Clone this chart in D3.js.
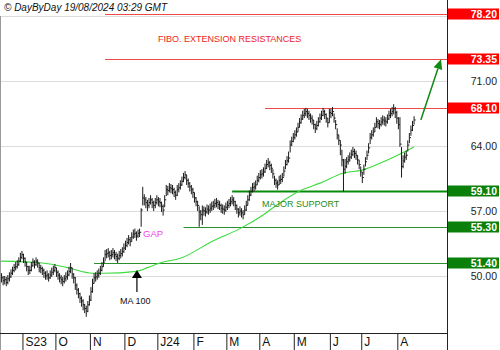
<!DOCTYPE html>
<html><head><meta charset="utf-8">
<script src="https://cdn.jsdelivr.net/npm/d3@7"></script>
<style>
html,body{margin:0;padding:0;background:#fff;}
svg{display:block;font-family:"Liberation Sans",Arial,sans-serif;}
</style></head>
<body>
<svg id="c" width="500" height="350"></svg>
<script>
// ---------- DATA ----------
const closes = [
50.1,49.8,49.5,49.6,49.3,49.7,49.9,50.3,50.6,50.9,
51.0,51.2,51.6,52.0,52.3,51.9,51.5,51.0,50.6,50.6,
51.1,51.5,51.2,51.6,51.4,50.9,50.8,50.6,50.3,50.0,
50.1,49.8,50.1,50.4,50.6,50.9,50.4,50.1,49.8,49.6,
49.4,49.7,49.9,50.1,50.5,50.9,50.2,49.8,49.0,48.5,
48.1,47.6,47.3,46.9,46.5,46.2,46.9,47.4,48.3,49.2,
49.8,49.9,50.1,50.3,50.6,51.0,51.5,52.3,52.4,52.5,
52.2,52.3,52.5,52.3,52.1,51.9,52.2,52.4,52.6,53.0,
53.3,53.6,53.9,53.7,54.2,54.5,54.6,54.3,54.6,54.7,
57.1,58.4,58.2,57.9,57.6,57.9,58.2,57.9,57.6,57.9,
58.2,58.0,57.9,57.5,57.1,58.2,59.3,59.2,59.5,59.4,
59.3,59.0,58.7,59.3,59.5,59.8,60.2,60.6,60.9,60.3,
60.0,59.6,59.3,59.0,58.4,58.0,57.6,56.9,56.6,57.1,
57.0,56.9,57.2,57.1,57.3,57.5,57.6,57.8,57.9,57.7,
57.6,57.3,57.2,57.1,57.4,57.6,57.8,58.0,58.2,58.0,
57.6,57.2,56.8,57.0,56.8,56.6,57.1,57.6,58.2,58.7,
59.1,59.5,59.6,59.8,60.3,60.6,60.9,61.0,61.2,61.6,
62.0,62.2,61.9,61.6,61.0,60.3,60.0,59.8,60.3,60.4,
60.6,61.3,62.0,62.4,62.7,64.1,64.5,64.9,65.2,65.5,
66.0,66.5,66.9,67.3,67.5,67.7,67.5,67.3,67.0,66.8,
66.3,65.9,66.2,66.6,67.0,67.3,67.7,67.4,67.0,66.5,
67.6,67.5,67.7,67.0,66.3,65.2,64.6,64.1,62.5,61.5,
61.8,62.3,62.5,62.8,63.1,63.4,63.2,63.0,62.5,62.0,
61.2,60.6,61.5,62.3,63.0,63.8,64.9,65.2,65.5,66.0,
66.6,66.4,66.3,66.6,66.8,66.7,66.6,66.9,67.3,67.5,
67.7,68.0,67.6,67.0,66.3,64.2,61.8,62.4,62.8,63.0,
64.1,64.9,65.7,66.2,66.8
];
const highs = [
50.6,50.3,50.0,50.0,49.9,50.1,50.4,50.7,51.0,51.3,
51.5,51.7,52.0,52.5,52.7,52.4,52.0,51.5,51.1,51.1,
51.5,51.9,51.7,52.0,51.8,51.4,51.2,51.0,50.8,50.5,
50.6,50.3,50.6,50.9,51.1,51.3,50.9,50.6,50.3,50.1,
49.9,50.1,50.4,50.6,51.0,51.4,50.9,50.3,49.9,49.2,
48.7,48.2,47.8,47.5,47.0,46.8,47.3,47.9,48.8,49.7,
50.3,50.4,50.6,50.8,51.1,51.5,52.0,52.8,52.9,53.0,
52.7,52.8,53.0,52.8,52.6,52.4,52.7,52.9,53.1,53.5,
53.8,54.1,54.4,54.2,54.7,55.0,55.1,54.8,55.0,55.1,
57.3,59.6,58.8,58.5,58.2,58.4,58.7,58.4,58.1,58.4,
58.7,58.5,58.4,58.0,57.7,58.7,59.8,59.7,60.0,59.9,
59.8,59.5,59.2,59.8,60.0,60.3,60.7,61.1,61.3,60.9,
60.5,60.1,59.8,59.5,59.0,58.5,58.1,57.5,57.1,57.6,
57.5,57.4,57.7,57.6,57.8,58.0,58.1,58.3,58.4,58.2,
58.1,57.8,57.7,57.6,57.9,58.1,58.3,58.5,58.7,58.5,
58.1,57.7,57.3,57.5,57.3,57.1,57.6,58.1,58.7,59.2,
59.6,60.0,60.1,60.3,60.8,61.1,61.4,61.5,61.7,62.1,
62.5,62.7,62.4,62.1,61.5,60.8,60.5,60.3,60.8,60.9,
61.1,61.8,62.5,62.9,63.4,64.6,65.0,65.4,65.7,66.0,
66.5,67.0,67.4,67.8,68.0,68.1,68.0,67.8,67.5,67.3,
66.8,66.4,66.7,67.1,67.5,67.8,68.1,67.9,67.5,67.0,
68.0,68.0,68.2,67.5,66.8,65.9,65.2,64.6,63.6,62.6,
62.6,62.8,63.0,63.3,63.6,63.9,63.7,63.5,63.0,62.5,
61.8,61.2,62.0,62.8,63.5,64.3,65.4,65.7,66.0,66.5,
67.1,66.9,66.8,67.1,67.3,67.2,67.1,67.4,67.8,68.0,
68.2,68.5,68.2,67.8,67.1,67.1,63.9,63.0,63.3,63.5,
64.6,65.4,66.2,66.7,67.2
];
const lows = [
49.6,49.3,49.0,49.1,48.9,49.1,49.4,49.8,50.1,50.4,
50.6,50.8,51.1,51.5,51.8,51.4,51.0,50.5,50.1,50.2,
50.5,51.0,50.8,51.1,50.9,50.4,50.3,50.1,49.8,49.6,
49.6,49.4,49.7,49.9,50.1,50.4,49.9,49.6,49.3,49.1,
48.9,49.2,49.4,49.6,50.0,50.3,49.7,49.2,48.5,48.0,
47.6,47.1,46.7,46.3,46.0,45.6,46.1,46.8,47.3,48.2,
49.2,49.4,49.6,49.8,50.1,50.5,51.0,51.6,51.9,52.0,
51.7,51.8,52.0,51.8,51.6,51.4,51.7,51.9,52.1,52.5,
52.8,53.1,53.4,53.2,53.7,54.0,54.1,53.8,54.1,54.2,
55.3,57.6,57.6,57.3,57.0,57.3,57.7,57.3,57.0,57.3,
57.7,57.5,57.4,56.9,56.5,57.4,58.6,58.7,59.0,58.9,
58.8,58.5,58.2,58.6,59.0,59.3,59.7,60.1,60.4,59.8,
59.5,59.1,58.8,58.4,57.9,57.5,57.0,55.3,56.0,55.5,
56.5,56.4,56.7,56.6,56.8,57.0,57.1,57.3,57.4,57.2,
57.1,56.8,56.7,56.6,56.9,57.1,57.3,57.5,57.7,57.5,
57.1,56.7,56.3,56.5,56.3,56.1,56.6,57.0,57.6,58.1,
58.6,59.0,59.1,59.3,59.8,60.1,60.4,60.5,60.7,61.1,
61.5,61.7,61.4,61.1,60.5,59.8,59.5,59.3,59.8,59.9,
60.1,60.7,61.5,61.9,62.2,63.3,64.0,64.4,64.7,65.0,
65.5,66.0,66.4,66.8,67.0,67.2,67.0,66.8,66.5,66.3,
65.8,65.4,65.7,66.1,66.5,66.8,67.2,66.9,66.5,66.0,
66.5,67.0,67.2,66.5,65.8,64.7,64.1,63.0,61.8,59.1,
61.0,61.6,62.0,62.3,62.6,62.9,62.7,62.5,62.0,61.5,
60.7,60.0,60.9,61.8,62.5,63.2,64.2,64.7,65.0,65.5,
66.0,65.9,65.8,66.1,66.3,66.2,66.1,66.4,66.8,67.0,
67.2,67.4,67.0,66.4,65.8,63.9,60.6,61.6,62.2,62.5,
63.4,64.3,65.1,65.6,66.3
];
// 100-day moving average, read at points along the curve (bar index, value)
const maIdx  = [0,27,43,59,66,87,94,102,115,136,153,168,177,193,204,219,231,247,264];
const maVals = [51.6,51.4,50.9,50.3,50.3,50.5,50.9,51.4,51.9,53.8,55.1,56.6,57.7,59.3,60.0,61.1,61.4,62.5,63.9];

const levels     = [78.20, 73.35, 68.10, 59.10, 55.30, 51.40];
const levelKinds = ["res","res","res","major","sup","sup"];
const levelFrom  = [67, 67, 169, 148, 117, 60];   // bar index where each line starts

const gridTicks  = [50, 57, 64, 71, 78];
const axisTicks  = [50, 57, 64, 71];
const monthLabels = ["S23","O","N","D","J24","F","M","A","M","J","J","A"];
const firstDate = new Date(2023, 7, 14);
const extraSlots = 20; // empty room on the right of the last bar

// ---------- LAYOUT ----------
const svg = d3.select("#c");
const W = 500, H = 350;
const plotR = 447, plotB = 333;

// trading dates (weekdays)
const dates = [];
{ let d = new Date(firstDate);
  while (dates.length < closes.length) {
    const wd = d.getDay();
    if (wd !== 0 && wd !== 6) dates.push(new Date(d));
    d.setDate(d.getDate() + 1);
  } }
const monthStarts = [];
for (let i = 1; i < dates.length; i++)
  if (dates[i].getMonth() !== dates[i-1].getMonth()) monthStarts.push(i);

const x = d3.scaleLinear().domain([0, closes.length + extraSlots]).range([0, plotR]);
const y = d3.scaleLinear().domain([43.86, 79.72]).range([plotB, 0]);

const colors = { res: "#f04848", major: "#0a8a0a", sup: "#2a8f2a" };
const boxColors = { res: "#ff0000", major: "#0a800a", sup: "#0a800a" };

// gridlines
svg.append("g").selectAll("line").data(gridTicks).join("line")
  .attr("x1", 0).attr("x2", plotR)
  .attr("y1", d => Math.round(y(d)) + 0.5).attr("y2", d => Math.round(y(d)) + 0.5)
  .attr("stroke", "#dcdcdc").attr("stroke-width", 1);

// level lines
svg.append("g").selectAll("line").data(levels).join("line")
  .attr("x1", (d, i) => x(levelFrom[i])).attr("x2", plotR)
  .attr("y1", d => Math.round(y(d)) + 0.5).attr("y2", d => Math.round(y(d)) + 0.5)
  .attr("stroke", (d, i) => colors[levelKinds[i]])
  .attr("stroke-width", (d, i) => levelKinds[i] === "major" ? 2 : 1);

// MA 100
const maPts = maIdx.map((d, i) => [d, maVals[i]]);
svg.append("path").datum(maPts)
  .attr("d", d3.line().x(d => x(d[0])).y(d => y(d[1])).curve(d3.curveMonotoneX))
  .attr("fill", "none").attr("stroke", "#3ddc3d").attr("stroke-width", 1.1);

// OHLC-style bars
const bars = svg.append("g").attr("stroke", "#1a1a1a").attr("stroke-width", 1);
bars.selectAll("line.hl").data(closes).join("line").attr("class", "hl")
  .attr("x1", (d, i) => x(i)).attr("x2", (d, i) => x(i))
  .attr("y1", (d, i) => y(highs[i])).attr("y2", (d, i) => y(lows[i]));
bars.selectAll("line.cl").data(closes).join("line").attr("class", "cl")
  .attr("x1", (d, i) => x(i)).attr("x2", (d, i) => x(i) + 1.6)
  .attr("y1", d => y(d)).attr("y2", d => y(d));

// frame
svg.append("line").attr("x1", 0.5).attr("x2", 0.5).attr("y1", y(78)).attr("y2", H)
  .attr("stroke", "#9a9a9a");
svg.append("line").attr("x1", plotR + 0.5).attr("x2", plotR + 0.5).attr("y1", 0).attr("y2", H)
  .attr("stroke", "#222");

// bottom axis (month separators)
const xAxis = d3.axisBottom(x).tickValues(monthStarts).tickSize(H - plotB).tickSizeOuter(0)
  .tickFormat((d, i) => monthLabels[i]);
const gx = svg.append("g").attr("transform", `translate(0,${plotB + 0.5})`).call(xAxis);
gx.select(".domain").attr("stroke", "#222").attr("d", `M0,0H${plotR}`);
gx.selectAll(".tick line").attr("stroke", "#222").attr("transform", "translate(0.5,0)");
gx.selectAll(".tick text").attr("text-anchor", "start").attr("x", 3).attr("y", 4).attr("dy", "0.71em")
  .attr("fill", "#111").style("font-size", "12px").style("font-family", "Liberation Sans, Arial, sans-serif");

// right axis
const yAxis = d3.axisRight(y).tickValues(axisTicks).tickSize(0).tickFormat(d3.format(".2f"));
const gy = svg.append("g").attr("transform", `translate(${plotR},0)`).call(yAxis);
gy.select(".domain").remove();
gy.selectAll(".tick text").attr("text-anchor", "end").attr("x", 50).attr("dy", "0.35em")
  .attr("fill", "#222").style("font-size", "10.5px").style("font-family", "Liberation Sans, Arial, sans-serif");

// level label boxes
const lb = svg.append("g").selectAll("g").data(levels).join("g")
  .attr("transform", d => `translate(${plotR + 1},${Math.round(y(d))})`);
lb.append("rect").attr("x", 0).attr("y", -5.5).attr("width", 51).attr("height", 11)
  .attr("fill", (d, i) => boxColors[levelKinds[i]]);
lb.append("text").attr("x", 49).attr("y", 0).attr("dy", "0.36em").attr("text-anchor", "end")
  .attr("fill", "#fff").style("font-size", "10.5px").style("font-weight", "bold")
  .text(d => d.toFixed(2));

// header
svg.append("text").attr("x", 4).attr("y", 11).style("font-size", "10px").style("font-style", "italic")
  .attr("fill", "#111").text("© DayByDay 19/08/2024 03:29 GMT");

// annotations
svg.append("text").attr("x", 158).attr("y", 42).style("font-size", "9px").attr("fill", "#ee1c1c")
  .text("FIBO. EXTENSION RESISTANCES");
svg.append("text").attr("x", 262).attr("y", 207).style("font-size", "9px").attr("fill", "#1e8f1e")
  .text("MAJOR SUPPORT");
svg.append("text").attr("x", 143).attr("y", 237).style("font-size", "9.5px").attr("fill", "#ee44ee")
  .text("GAP");
svg.append("text").attr("x", 120).attr("y", 304).style("font-size", "9px").attr("fill", "#111")
  .text("MA 100");

// black arrow to MA
const ax = x(87.3), aTip = y(50.65);
svg.append("line").attr("x1", ax).attr("x2", ax).attr("y1", aTip + 22).attr("y2", aTip + 7)
  .attr("stroke", "#000").attr("stroke-width", 1.2);
svg.append("path").attr("d", `M${ax},${aTip}L${ax - 5},${aTip + 8}L${ax + 5},${aTip + 8}Z`).attr("fill", "#000");

// green target arrow
const g0 = [x(268.3), y(66.8)], g1 = [x(281.2), y(73.35)];
const ang = Math.atan2(g1[1] - g0[1], g1[0] - g0[0]);
const hl = 10, hw = 4.5;
const bx = g1[0] - hl * Math.cos(ang), by = g1[1] - hl * Math.sin(ang);
svg.append("line").attr("x1", g0[0]).attr("y1", g0[1]).attr("x2", bx).attr("y2", by)
  .attr("stroke", "#138a13").attr("stroke-width", 1.5);
svg.append("path")
  .attr("d", `M${g1[0]},${g1[1]}L${bx + hw * Math.sin(ang)},${by - hw * Math.cos(ang)}L${bx - hw * Math.sin(ang)},${by + hw * Math.cos(ang)}Z`)
  .attr("fill", "#138a13");
</script>
</body></html>
